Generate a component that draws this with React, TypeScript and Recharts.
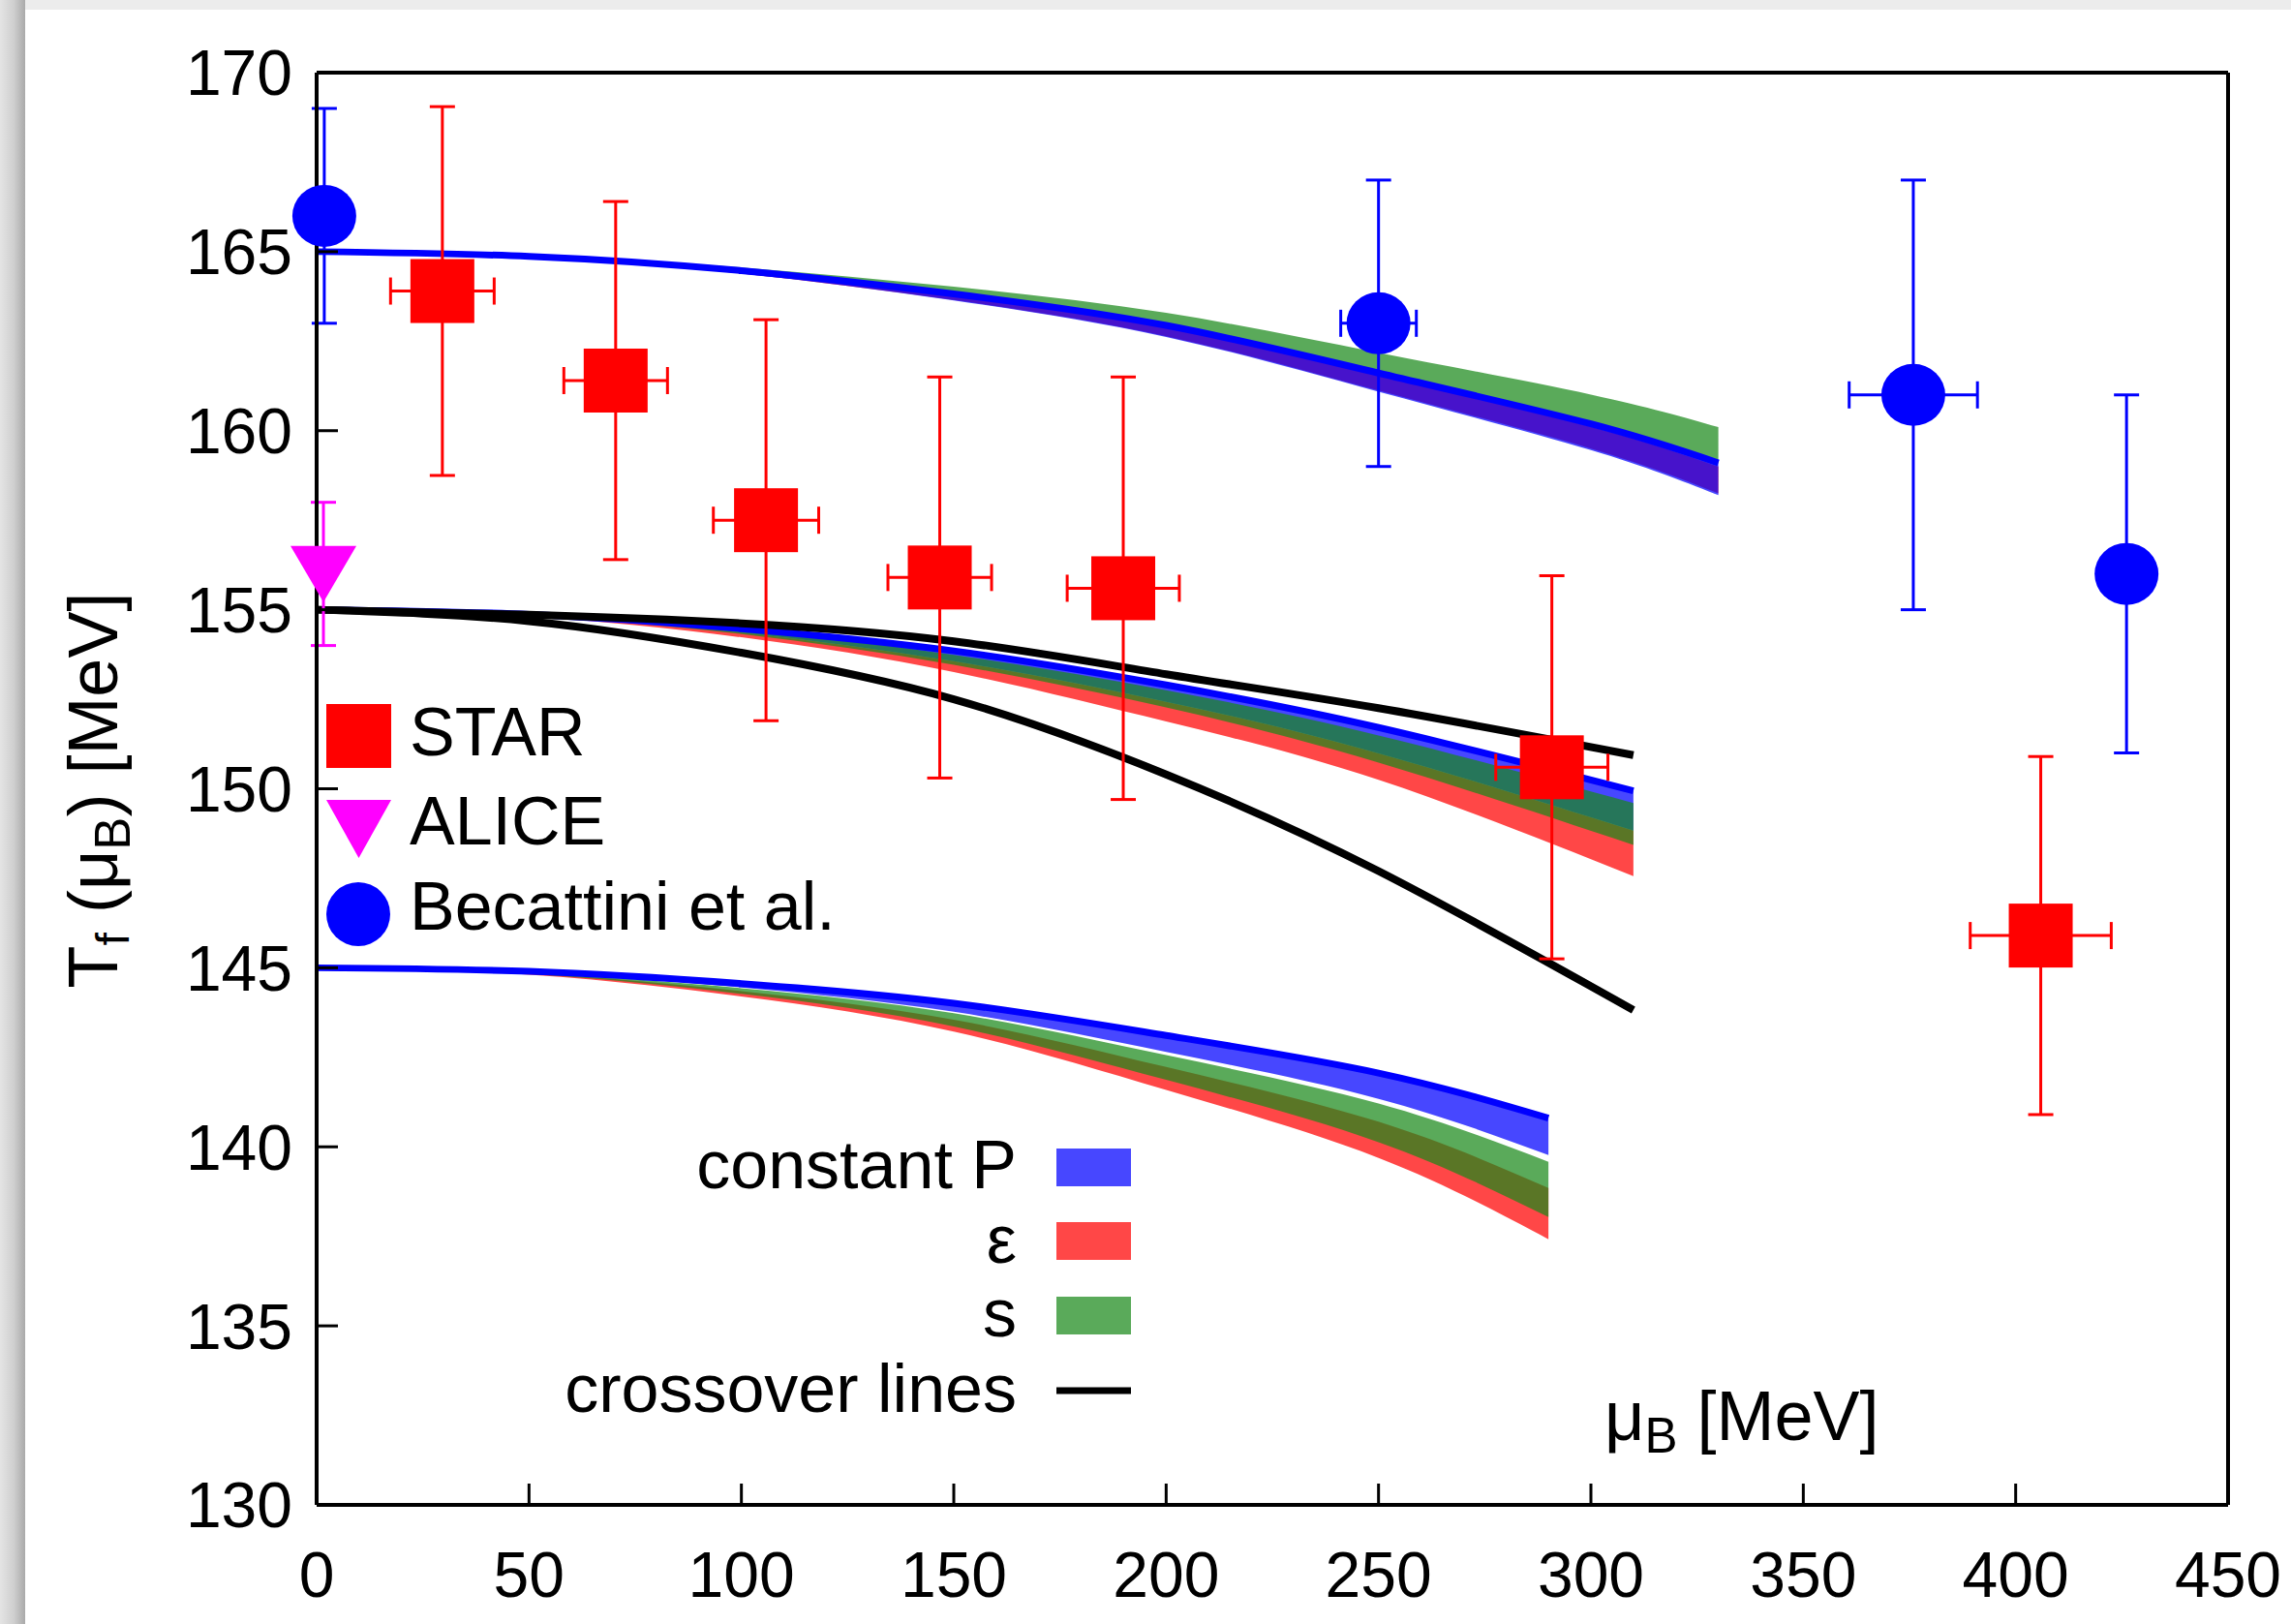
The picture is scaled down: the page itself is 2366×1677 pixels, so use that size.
import React from "react";
import { Area, ComposedChart, ErrorBar, Line, Scatter, XAxis, YAxis } from "recharts";

const W = 2366;
const H = 1677;
const FONT = "'Liberation Sans', Arial, sans-serif";

const xTicks = [0, 50, 100, 150, 200, 250, 300, 350, 400, 450];
const yTicks = [130, 135, 140, 145, 150, 155, 160, 165, 170];

// STAR freeze-out points
const starMu = [29.6, 70.4, 105.8, 146.7, 189.9, 290.8, 405.9];
const starT = [163.9, 161.4, 157.5, 155.9, 155.6, 150.6, 145.9];
const starErrT = [5.15, 5.0, 5.6, 5.6, 5.9, 5.35, 5.0];
const starErrMu = [12.2, 12.2, 12.4, 12.2, 13.2, 13.2, 16.6];

// Becattini et al.
const becMu = [1.8, 250, 375.9, 426.1];
const becT = [166, 163, 161, 156];
const becErrT = [3, 4, 6, 5];
const becErrMu = [0, 8.9, 15.1, 0];

// ALICE
const aliceMu = [1.6];
const aliceT = [156];
const aliceErrT = [2];

// bands starting at T = 165
const muTop = [0, 50, 100, 150, 200, 250, 300, 330];
const topSHigh = [165, 164.89, 164.56, 164.02, 163.29, 162.18, 161.01, 160.1];
const topSLow = [165, 164.87, 164.47, 163.82, 162.94, 161.61, 160.19, 159.1];
const topPHigh = [165, 164.87, 164.47, 163.82, 162.94, 161.61, 160.19, 159.1];
const topPLow = [165, 164.85, 164.39, 163.64, 162.62, 161.09, 159.46, 158.2];
const topEHigh = [165, 164.87, 164.46, 163.8, 162.9, 161.55, 160.11, 159.0];
const topELow = [165, 164.85, 164.39, 163.65, 162.64, 161.12, 159.5, 158.25];

// bands starting at T = 155
const muMid = [0, 50, 100, 150, 200, 250, 310];
const midPHigh = [155, 154.87, 154.47, 153.85, 152.9, 151.71, 149.94];
const midPLow = [155, 154.84, 154.36, 153.56, 152.43, 150.99, 148.83];
const midSHigh = [155, 154.86, 154.44, 153.74, 152.75, 151.49, 149.6];
const midSLow = [155, 154.83, 154.32, 153.46, 152.27, 150.73, 148.43];
const midEHigh = [155, 154.84, 154.36, 153.56, 152.43, 150.99, 148.83];
const midELow = [155, 154.81, 154.23, 153.26, 151.88, 150.25, 147.56];
const crossUpper = [155, 154.86, 154.62, 154.12, 153.2, 152.25, 150.94];
const crossLower = [155, 154.68, 153.8, 152.5, 150.4, 147.7, 143.82];

// bands starting at T = 145
const muBot = [0, 50, 100, 150, 200, 250, 290];
const botPHigh = [145, 144.9, 144.56, 144.01, 143.11, 142.06, 140.8];
const botPLow = [145, 144.87, 144.45, 143.77, 142.65, 141.34, 139.77];
const botSHigh = [145, 144.86, 144.43, 143.73, 142.56, 141.21, 139.58];
const botSLow = [145, 144.83, 144.27, 143.36, 141.87, 140.13, 138.04];
const botEHigh = [145, 144.85, 144.35, 143.55, 142.23, 140.7, 138.85];
const botELow = [145, 144.81, 144.2, 143.22, 141.59, 139.69, 137.42];

const bandRows = (mu: number[], eLo: number[], eHi: number[], pLo: number[], pHi: number[], sLo: number[], sHi: number[]) =>
  mu.map((m, i) => ({ mu: m, e: [eLo[i], eHi[i]], p: [pLo[i], pHi[i]], s: [sLo[i], sHi[i]], edge: pHi[i] }));

const topData = bandRows(muTop, topELow, topEHigh, topPLow, topPHigh, topSLow, topSHigh);
const midData = bandRows(muMid, midELow, midEHigh, midPLow, midPHigh, midSLow, midSHigh);
const botData = bandRows(muBot, botELow, botEHigh, botPLow, botPHigh, botSLow, botSHigh);
const crossData = muMid.map((m, i) => ({ mu: m, up: crossUpper[i], low: crossLower[i] }));

const starData = starMu.map((mu, i) => ({ mu, t: starT[i], et: starErrT[i], em: starErrMu[i] }));
const becData = becMu.map((mu, i) => ({ mu, t: becT[i], et: becErrT[i], em: becErrMu[i] }));
const aliceData = aliceMu.map((mu, i) => ({ mu, t: aliceT[i], et: aliceErrT[i] }));

const RED = "#ff0000";
const BLUE = "#0000ff";
const GREEN = "#1a891a";
const MAGENTA = "#ff00ff";
const BAND_OPACITY = 0.72;

const renderSquare = (props: any) => {
  const { cx, cy } = props;
  return <rect x={cx - 33} y={cy - 33} width={66} height={66} fill={RED} />;
};
const renderCircle = (props: any) => {
  const { cx, cy } = props;
  return <ellipse cx={cx} cy={cy} rx={33} ry={32} fill={BLUE} />;
};
const renderTriangle = (props: any) => {
  const { cx, cy } = props;
  return <polygon points={`${cx - 34},${cy - 29} ${cx + 34},${cy - 29} ${cx},${cy + 29}`} fill={MAGENTA} />;
};

const axisLine = { stroke: "#000", strokeWidth: 4 };
const tickLine = { stroke: "#000", strokeWidth: 3 };
const tickText = { fill: "#000", fontSize: 66, fontFamily: FONT };

export default function App() {
  const bandGroups = [topData, midData, botData];
  return (
    <div style={{ position: "absolute", left: 0, top: 0, width: W, height: H, background: "#ececec", overflow: "hidden" }}>
      <div
        style={{
          position: "absolute",
          left: 0,
          top: 0,
          width: 26,
          height: H,
          background: "linear-gradient(to right, #e4e4e4 0%, #cfcfcf 55%, #a9a9a9 100%)",
        }}
      />
      <div style={{ position: "absolute", left: 26, top: 10, width: W - 26, height: H - 10, background: "#fff" }} />
      <div style={{ position: "absolute", left: 0, top: 0 }}>
        <ComposedChart width={W} height={H} margin={{ top: 65, right: 55, bottom: 23, left: 127 }}>
          <XAxis
            dataKey="mu"
            type="number"
            domain={[0, 450]}
            ticks={xTicks}
            interval={0}
            height={100}
            tickSize={-22}
            tickMargin={70}
            axisLine={axisLine}
            tickLine={tickLine}
            tick={tickText}
          />
          <XAxis
            xAxisId="top"
            orientation="top"
            type="number"
            domain={[0, 450]}
            ticks={xTicks}
            interval={0}
            height={10}
            tickSize={-22}
            axisLine={axisLine}
            tickLine={tickLine}
            tick={false}
          />
          <YAxis
            type="number"
            domain={[130, 170]}
            ticks={yTicks}
            interval={0}
            width={200}
            tickSize={-22}
            tickMargin={47}
            axisLine={axisLine}
            tickLine={tickLine}
            tick={tickText}
          />
          <YAxis
            yAxisId="right"
            orientation="right"
            type="number"
            domain={[130, 170]}
            ticks={yTicks}
            interval={0}
            width={10}
            tickSize={-22}
            axisLine={axisLine}
            tickLine={tickLine}
            tick={false}
          />

          {bandGroups.map((d, gi) => (
            <Area
              key={`e${gi}`}
              data={d}
              dataKey="e"
              type="natural"
              stroke="none"
              fill={RED}
              fillOpacity={BAND_OPACITY}
              isAnimationActive={false}
            />
          ))}
          {bandGroups.map((d, gi) => (
            <Area
              key={`p${gi}`}
              data={d}
              dataKey="p"
              type="natural"
              stroke="none"
              fill={BLUE}
              fillOpacity={BAND_OPACITY}
              isAnimationActive={false}
            />
          ))}
          {bandGroups.map((d, gi) => (
            <Area
              key={`s${gi}`}
              data={d}
              dataKey="s"
              type="natural"
              stroke="none"
              fill={GREEN}
              fillOpacity={BAND_OPACITY}
              isAnimationActive={false}
            />
          ))}
          {bandGroups.map((d, gi) => (
            <Line
              key={`l${gi}`}
              data={d}
              dataKey="edge"
              type="natural"
              stroke={BLUE}
              strokeWidth={7}
              dot={false}
              isAnimationActive={false}
            />
          ))}

          <Line data={crossData} dataKey="up" type="natural" stroke="#000" strokeWidth={8} dot={false} isAnimationActive={false} />
          <Line data={crossData} dataKey="low" type="natural" stroke="#000" strokeWidth={8} dot={false} isAnimationActive={false} />

          <Scatter data={becData} dataKey="t" shape={renderCircle} isAnimationActive={false}>
            <ErrorBar dataKey="et" direction="y" width={13} stroke={BLUE} strokeWidth={3} />
            <ErrorBar dataKey="em" direction="x" width={14} stroke={BLUE} strokeWidth={3} />
          </Scatter>
          <Scatter data={aliceData} dataKey="t" shape={renderTriangle} isAnimationActive={false}>
            <ErrorBar dataKey="et" direction="y" width={13} stroke={MAGENTA} strokeWidth={3} />
          </Scatter>
          <Scatter data={starData} dataKey="t" shape={renderSquare} isAnimationActive={false}>
            <ErrorBar dataKey="et" direction="y" width={13} stroke={RED} strokeWidth={3} />
            <ErrorBar dataKey="em" direction="x" width={14} stroke={RED} strokeWidth={3} />
          </Scatter>
        </ComposedChart>
      </div>

      <svg width={W} height={H} style={{ position: "absolute", left: 0, top: 0, pointerEvents: "none" }} fontFamily={FONT}>
        {/* data legend, top left */}
        <rect x={337} y={727} width={67} height={66} fill={RED} />
        <text x={423} y={780} fontSize={70} fill="#000">STAR</text>
        <polygon points="337,826 404,826 370.5,886" fill={MAGENTA} />
        <text x={423} y={872} fontSize={70} fill="#000">ALICE</text>
        <ellipse cx={370} cy={944} rx={33} ry={33} fill={BLUE} />
        <text x={423} y={960} fontSize={70} fill="#000">Becattini et al.</text>

        {/* band legend */}
        <text x={1050} y={1227} fontSize={70} fill="#000" textAnchor="end">constant P</text>
        <rect x={1091} y={1186} width={77} height={39} fill={BLUE} fillOpacity={BAND_OPACITY} />
        <text x={1050} y={1304} fontSize={70} fill="#000" textAnchor="end">ε</text>
        <rect x={1091} y={1262} width={77} height={39} fill={RED} fillOpacity={BAND_OPACITY} />
        <text x={1050} y={1380} fontSize={70} fill="#000" textAnchor="end">s</text>
        <rect x={1091} y={1339} width={77} height={39} fill={GREEN} fillOpacity={BAND_OPACITY} />
        <text x={1050} y={1458} fontSize={70} fill="#000" textAnchor="end">crossover lines</text>
        <line x1={1091} x2={1168} y1={1436} y2={1436} stroke="#000" strokeWidth={7} />

        {/* axis titles */}
        <text x={1657} y={1487} fontSize={72} fill="#000">
          μ<tspan dy={13} fontSize={51}>B</tspan>
          <tspan dy={-13}> [MeV]</tspan>
        </text>
        <text transform="translate(121,816) rotate(-90)" fontSize={72} fill="#000" textAnchor="middle">
          T<tspan dy={12} fontSize={48}>f</tspan>
          <tspan dy={-12}> (μ</tspan>
          <tspan dy={13} fontSize={51}>B</tspan>
          <tspan dy={-13}>) [MeV]</tspan>
        </text>
      </svg>
    </div>
  );
}
